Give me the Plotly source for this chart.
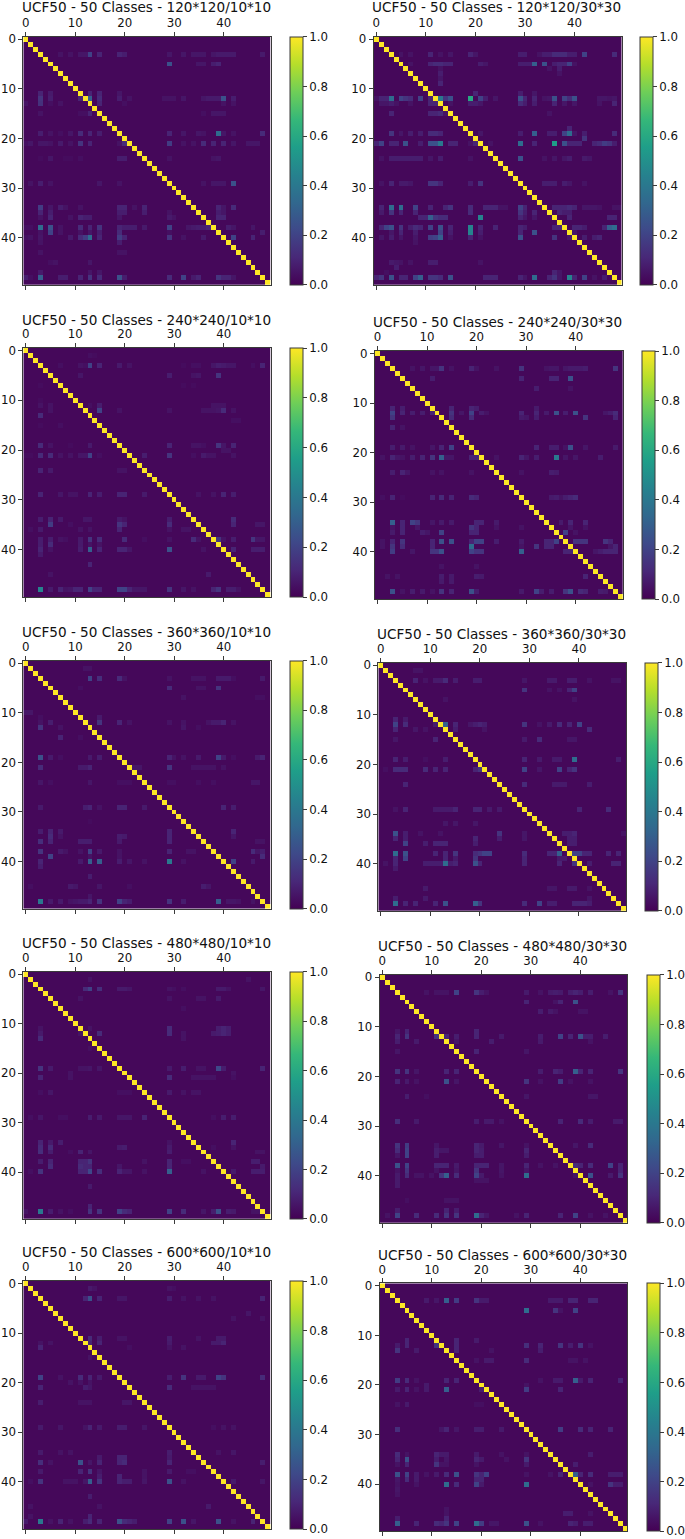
import plotly.graph_objects as go

N_CLASSES = 50
CLASS_INDEX = list(range(N_CLASSES))
TICK_VALUES = [0, 10, 20, 30, 40]
CBAR_TICKS = [0.0, 0.2, 0.4, 0.6, 0.8, 1.0]
DIAGONAL = [1.0] * N_CLASSES
BACKGROUND = 0.02

# off-diagonal cells: (row, column, value)
C_120_10 = [
(3,7,.05),(3,9,.05),(3,11,.06),(3,12,.06),(3,13,.2),(3,15,.1),(3,19,.1),(3,20,.08),(3,29,.06),(3,32,.06),(3,34,.06),(3,35,.06),(3,36,.06),(3,38,.06),(3,39,.07),(3,40,.07),(3,41,.07),(3,42,.07),(3,48,.07),
(5,29,.25),(5,35,.06),(5,36,.06),(5,38,.08),(5,39,.1),
(11,3,.1),(11,5,.07),(11,13,.1),(11,15,.1),(11,19,.06),
(12,3,.15),(12,5,.08),(12,11,.1),(12,13,.3),(12,15,.12),(12,19,.08),(12,21,.05),(12,28,.05),(12,29,.05),(12,30,.05),(12,32,.06),(12,36,.06),(12,37,.07),(12,38,.07),(12,39,.07),(12,40,.25),(12,42,.08),
(13,0,.05),(13,3,.14),(13,5,.04),(13,7,.05),(13,15,.1),(13,20,.04),(13,40,.05),(13,42,.05),
(15,3,.05),(15,11,.04),(15,12,.04),(15,13,.1),(15,36,.04),(15,38,.06),(15,39,.06),(15,40,.06),
(19,3,.08),(19,5,.05),(19,7,.04),(19,9,.06),(19,11,.12),(19,13,.1),(19,15,.08),(19,29,.1),(19,32,.06),(19,35,.06),(19,36,.05),(19,39,.35),(19,40,.06),(19,42,.05),(19,48,.12),
(21,0,.04),(21,1,.06),(21,3,.06),(21,4,.06),(21,5,.05),(21,7,.07),(21,9,.05),(21,11,.15),(21,13,.1),(21,19,.05),(21,20,.12),(21,29,.18),(21,32,.05),(21,34,.05),(21,36,.12),(21,38,.1),(21,40,.1),(21,42,.06),(21,45,.06),(21,46,.06),(21,47,.06),
(24,3,.03),(24,5,.06),(24,8,.03),(24,9,.03),(24,11,.04),(24,19,.08),(24,20,.08),(24,29,.05),(24,38,.05),(24,39,.06),
(29,1,.05),(29,3,.08),(29,5,.05),(29,15,.06),(29,19,.05),(29,36,.05),(29,38,.06),(29,39,.06),(29,40,.06),(29,42,.25),
(34,3,.18),(34,5,.06),(34,7,.08),(34,8,.05),(34,11,.05),(34,19,.1),(34,20,.1),(34,22,.05),(34,24,.1),(34,39,.1),(34,40,.06),(34,42,.12),
(35,3,.1),(35,5,.08),(35,19,.08),(35,20,.08),(35,24,.08),(35,29,.05),(35,39,.08),(35,40,.06),
(36,3,.05),(36,5,.1),(36,9,.05),(36,11,.1),(36,12,.08),(36,13,.08),(36,19,.06),(36,29,.07),(36,30,.05),(36,39,.1),(36,40,.1),
(38,0,.04),(38,1,.04),(38,3,.35),(38,5,.25),(38,7,.05),(38,11,.12),(38,13,.1),(38,15,.15),(38,19,.1),(38,20,.08),(38,21,.08),(38,22,.08),(38,24,.07),(38,29,.2),(38,33,.06),(38,34,.07),(38,35,.08),(38,36,.08),(38,37,.1),(38,41,.08),(38,42,.06),(38,46,.06),
(39,3,.05),(39,5,.2),(39,7,.05),(39,11,.05),(39,13,.06),(39,15,.08),(39,19,.12),(39,29,.04),(39,48,.08),
(40,0,.04),(40,1,.05),(40,3,.06),(40,9,.07),(40,11,.12),(40,12,.18),(40,13,.35),(40,15,.1),(40,19,.18),(40,20,.1),(40,29,.15),(40,32,.05),(40,36,.07),(40,42,.2),(40,46,.1),
(41,3,.05),(41,19,.08),(43,3,.05),(43,19,.05),(43,20,.05),(45,5,.04),(45,6,.05),(45,13,.06),(47,3,.07),(47,13,.06),(47,15,.06),
(48,0,.08),(48,1,.04),(48,3,.3),(48,7,.08),(48,8,.08),(48,11,.1),(48,13,.15),(48,15,.12),(48,19,.25),(48,20,.08),(48,29,.12),(48,32,.2),(48,34,.07),(48,35,.1),(48,39,.15),(48,40,.1),(48,41,.1),(48,42,.06),
]
C_120_30 = [
(3,5,.05),(3,7,.05),(3,11,.1),(3,13,.05),(3,15,.06),(3,19,.1),(3,20,.06),(3,29,.08),(3,30,.08),(3,33,.05),(3,34,.08),(3,35,.08),(3,36,.12),(3,37,.12),(3,38,.12),(3,39,.08),(3,40,.08),(3,42,.2),(3,48,.12),
(5,7,.05),(5,11,.1),(5,12,.12),(5,13,.12),(5,14,.1),(5,15,.1),(5,21,.08),(5,22,.06),(5,29,.08),(5,30,.08),(5,31,.08),(5,32,.3),(5,34,.25),(5,36,.08),(5,37,.1),(5,38,.1),(5,39,.2),(5,40,.05),
(6,13,.05),(6,35,.05),(6,37,.08),(7,13,.08),(7,37,.05),(8,13,.06),(9,13,.1),(11,20,.1),(11,29,.08),(11,32,.06),
(12,0,.05),(12,1,.1),(12,2,.1),(12,3,.35),(12,5,.2),(12,6,.15),(12,7,.12),(12,9,.2),(12,11,.1),(12,13,.4),(12,14,.15),(12,15,.25),(12,19,.6),(12,21,.2),(12,22,.08),(12,24,.06),(12,29,.25),(12,30,.1),(12,32,.1),(12,34,.05),(12,35,.06),(12,36,.25),(12,38,.2),(12,39,.12),(12,40,.25),(12,45,.06),(12,46,.06),(12,47,.05),(12,48,.06),
(13,1,.06),(13,2,.06),(13,3,.08),(13,4,.05),(13,7,.05),(13,11,.1),(13,12,.1),(13,15,.05),(13,19,.08),(13,20,.08),(13,21,.06),(13,29,.12),(13,30,.08),(13,32,.08),(13,36,.1),(13,38,.06),(13,40,.06),(13,45,.05),(13,48,.1),
(15,3,.1),(15,11,.1),(15,12,.1),(15,13,.12),(15,14,.05),(15,35,.05),(18,39,.1),
(19,3,.15),(19,5,.06),(19,7,.08),(19,9,.08),(19,11,.12),(19,12,.12),(19,13,.1),(19,21,.06),(19,29,.08),(19,32,.3),(19,35,.08),(19,36,.08),(19,38,.2),(19,39,.35),(19,40,.06),(19,42,.08),(19,48,.12),(20,42,.15),
(21,0,.1),(21,1,.2),(21,3,.1),(21,4,.1),(21,6,.25),(21,9,.08),(21,11,.25),(21,12,.25),(21,13,.4),(21,15,.1),(21,16,.1),(21,19,.05),(21,20,.1),(21,23,.05),(21,29,.35),(21,32,.1),(21,36,.55),(21,38,.25),(21,39,.1),(21,40,.1),(21,41,.1),(21,44,.1),(21,45,.12),(21,46,.18),(21,47,.15),(21,48,.08),
(24,1,.05),(24,3,.08),(24,4,.08),(24,5,.08),(24,6,.08),(24,7,.08),(24,8,.08),(24,9,.08),(24,11,.06),(24,13,.08),(24,19,.05),(24,29,.25),(24,34,.05),(24,36,.06),(24,38,.06),(24,39,.08),(24,42,.07),(24,43,.06),
(29,1,.05),(29,3,.1),(29,5,.07),(29,6,.07),(29,7,.06),(29,11,.15),(29,12,.15),(29,13,.1),(29,19,.08),(29,21,.15),(29,34,.08),(29,35,.08),(29,36,.08),(29,38,.08),(29,39,.06),(29,42,.05),
(34,1,.1),(34,3,.35),(34,5,.35),(34,8,.2),(34,11,.1),(34,14,.1),(34,15,.15),(34,19,.12),(34,22,.1),(34,23,.1),(34,24,.1),(34,25,.05),(34,26,.05),(34,29,.2),(34,30,.1),(34,36,.1),(34,37,.1),(34,38,.1),(34,39,.12),(34,40,.1),(34,42,.06),(34,43,.06),(34,44,.06),(34,45,.05),(34,48,.05),(34,49,.05),
(35,1,.07),(35,3,.15),(35,5,.1),(35,8,.1),(35,19,.12),(35,29,.15),(35,30,.08),(35,32,.1),(35,37,.1),(35,38,.08),(35,39,.08),
(36,9,.1),(36,10,.1),(36,11,.3),(36,12,.15),(36,13,.12),(36,14,.12),(36,21,.45),(36,29,.1),(36,30,.06),(36,32,.06),(36,39,.1),(36,47,.1),(36,48,.1),
(38,1,.1),(38,2,.2),(38,3,.25),(38,5,.15),(38,7,.08),(38,8,.12),(38,9,.1),(38,11,.2),(38,13,.25),(38,15,.1),(38,19,.45),(38,21,.1),(38,24,.1),(38,29,.1),(38,30,.08),(38,36,.1),(38,37,.1),(38,40,.1),(38,41,.1),(38,42,.08),(38,46,.1),(38,47,.3),(38,48,.35),
(39,3,.06),(39,5,.1),(39,8,.08),(39,13,.2),(39,15,.08),(39,19,.45),(39,21,.08),(39,29,.1),(39,32,.25),(39,40,.06),
(40,1,.06),(40,3,.08),(40,5,.06),(40,8,.06),(40,11,.18),(40,12,.2),(40,13,.3),(40,15,.05),(40,19,.1),(40,21,.05),(40,29,.25),(40,36,.15),(40,39,.06),(40,42,.08),(40,44,.08),(40,45,.1),
(41,8,.05),(45,3,.07),(45,4,.06),(45,5,.05),(45,7,.05),(45,11,.08),(45,12,.08),(45,21,.05),(46,4,.08),(47,2,.04),(47,36,.1),(47,37,.06),
(48,0,.1),(48,1,.15),(48,3,.25),(48,5,.1),(48,6,.1),(48,8,.2),(48,9,.3),(48,11,.15),(48,12,.15),(48,13,.12),(48,15,.25),(48,22,.1),(48,23,.1),(48,24,.1),(48,29,.1),(48,30,.06),(48,32,.35),(48,35,.1),(48,36,.15),(48,37,.06),(48,39,.45),(48,40,.1),(48,42,.2),(48,44,.05),(48,46,.08),
]
C_240_10 = [
(1,13,.04),(1,14,.03),
(3,7,.04),(3,11,.05),(3,12,.04),(3,13,.2),(3,15,.1),(3,19,.07),(3,21,.05),(3,32,.03),(3,34,.04),(3,35,.04),(3,38,.06),(3,39,.08),(3,40,.07),(3,41,.06),(3,42,.06),(3,46,.04),(3,48,.1),
(5,11,.06),(5,29,.08),(5,34,.05),(5,35,.06),(5,39,.15),(7,3,.03),(7,32,.03),(7,34,.03),(10,3,.03),
(11,3,.05),(11,5,.05),(11,13,.04),(11,15,.08),(11,38,.05),(11,39,.05),(11,40,.05),
(12,5,.05),(12,15,.2),(12,19,.05),(12,29,.05),(12,36,.05),(12,37,.05),(12,38,.05),(12,39,.06),(12,40,.12),(12,42,.05),
(13,3,.12),(14,42,.04),(14,43,.04),(15,3,.03),(15,7,.04),
(19,3,.12),(19,5,.05),(19,9,.03),(19,13,.07),(19,29,.1),(19,34,.05),(19,35,.05),(19,36,.04),(19,39,.15),(19,40,.06),(19,42,.1),(20,40,.05),(20,41,.05),
(21,0,.03),(21,1,.03),(21,3,.12),(21,5,.12),(21,7,.05),(21,9,.05),(21,11,.06),(21,12,.06),(21,13,.2),(21,15,.04),(21,24,.08),(21,29,.15),(21,34,.04),(21,36,.07),(21,37,.05),(21,38,.05),(21,42,.05),
(24,3,.1),(24,5,.07),(24,19,.05),(24,20,.05),
(29,3,.1),(29,7,.06),(29,9,.05),(29,10,.05),(29,13,.1),(29,15,.08),(29,19,.1),(29,20,.1),(29,24,.07),(29,35,.05),(29,38,.05),(29,40,.1),(29,42,.08),
(34,3,.08),(34,5,.1),(34,7,.07),(34,12,.06),(34,13,.06),(34,19,.07),(34,20,.05),(34,29,.08),(34,42,.12),
(35,5,.18),(35,9,.04),(35,19,.15),(35,20,.1),(35,29,.12),(35,42,.1),(35,47,.06),(35,48,.06),
(36,1,.04),(36,3,.07),(36,11,.05),(36,13,.05),(36,19,.1),(36,29,.05),(36,32,.05),(36,33,.05),
(38,3,.08),(38,5,.08),(38,7,.05),(38,8,.04),(38,11,.07),(38,13,.15),(38,15,.12),(38,20,.12),(38,24,.04),(38,29,.05),(38,34,.12),(38,35,.05),(38,39,.15),(38,40,.05),(38,42,.08),(38,46,.15),(38,47,.06),(38,48,.06),
(39,3,.08),(39,5,.12),(39,11,.07),(39,13,.05),(39,15,.05),
(40,3,.1),(40,5,.05),(40,11,.08),(40,13,.3),(40,15,.1),(40,19,.1),(40,20,.1),(40,21,.06),(40,29,.25),(40,36,.05),(40,42,.1),(40,46,.08),(40,47,.08),(40,48,.08),
(41,3,.07),(43,13,.1),(45,5,.05),(45,37,.07),
(48,3,.45),(48,5,.07),(48,7,.1),(48,8,.05),(48,9,.06),(48,10,.1),(48,11,.1),(48,13,.2),(48,14,.1),(48,15,.1),(48,19,.2),(48,20,.2),(48,21,.1),(48,22,.06),(48,23,.06),(48,24,.06),(48,29,.15),(48,32,.06),(48,34,.05),(48,38,.1),(48,39,.15),(48,41,.08),(48,42,.08),(48,43,.05),
]
C_240_30 = [
(3,7,.05),(3,9,.06),(3,11,.06),(3,12,.06),(3,13,.15),(3,15,.05),(3,19,.1),(3,20,.05),(3,24,.05),(3,29,.15),(3,34,.05),(3,35,.06),(3,36,.06),(3,38,.06),(3,39,.07),(3,40,.07),(3,41,.07),(3,42,.08),(3,48,.15),
(5,11,.08),(5,29,.1),(5,35,.1),(5,36,.1),(5,39,.25),(7,32,.08),(7,39,.05),
(11,3,.1),(11,5,.08),(11,15,.1),(11,19,.1),(11,20,.08),(11,32,.07),
(12,3,.2),(12,5,.1),(12,7,.08),(12,9,.08),(12,11,.1),(12,15,.15),(12,17,.06),(12,19,.2),(12,21,.08),(12,22,.05),(12,29,.1),(12,32,.1),(12,34,.07),(12,36,.25),(12,38,.08),(12,40,.25),(12,46,.06),(12,47,.08),(12,48,.12),
(13,3,.15),(13,15,.12),(13,19,.12),(13,29,.07),(13,30,.06),(13,32,.08),(13,42,.15),(13,48,.1),(15,3,.1),(15,5,.05),
(19,3,.08),(19,5,.07),(19,7,.05),(19,11,.06),(19,13,.1),(19,15,.2),(19,32,.1),(19,35,.08),(19,36,.08),(19,38,.05),(19,39,.25),(19,42,.06),(19,48,.07),
(21,1,.05),(21,3,.1),(21,4,.06),(21,5,.05),(21,7,.08),(21,9,.1),(21,11,.15),(21,13,.3),(21,14,.06),(21,15,.06),(21,19,.1),(21,20,.1),(21,24,.05),(21,29,.1),(21,30,.06),(21,32,.08),(21,36,.4),(21,38,.06),(21,40,.06),(21,45,.08),
(24,3,.08),(24,5,.1),(24,6,.06),(24,11,.05),(24,13,.05),(24,19,.05),(24,29,.05),(24,35,.08),(24,36,.07),
(29,1,.04),(29,3,.1),(29,5,.03),(29,11,.1),(29,13,.12),(29,15,.1),(29,19,.12),(29,20,.1),(29,35,.07),(29,36,.08),(29,37,.05),(29,38,.08),(29,39,.1),(29,40,.12),
(34,3,.3),(34,5,.1),(34,7,.2),(34,8,.15),(34,11,.06),(34,13,.07),(34,15,.07),(34,20,.1),(34,21,.1),(34,24,.07),(34,37,.07),(34,39,.1),(34,42,.1),
(35,3,.05),(35,5,.1),(35,8,.06),(35,19,.15),(35,20,.1),(35,24,.05),(35,29,.05),(35,39,.06),(35,42,.05),
(36,3,.07),(36,5,.1),(36,9,.08),(36,10,.06),(36,13,.2),(36,19,.1),(36,20,.1),(36,38,.2),(36,40,.05),
(38,1,.05),(38,3,.1),(38,5,.15),(38,11,.1),(38,13,.25),(38,15,.25),(38,19,.1),(38,20,.2),(38,21,.2),(38,24,.08),(38,29,.07),(38,34,.1),(38,35,.1),(38,36,.2),(38,40,.15),(38,41,.15),(38,42,.15),(38,46,.15),(38,47,.1),
(39,1,.05),(39,3,.15),(39,5,.12),(39,11,.1),(39,19,.35),(39,29,.05),(39,32,.15),(39,34,.1),(39,35,.1),(39,47,.06),(39,48,.1),
(40,3,.18),(40,7,.06),(40,11,.15),(40,12,.15),(40,13,.25),(40,19,.2),(40,20,.15),(40,21,.15),(40,29,.3),(40,38,.1),(40,39,.1),(40,44,.06),(40,45,.08),(40,46,.1),(40,47,.1),(40,48,.1),
(43,13,.05),(43,20,.05),(45,2,.05),(45,4,.05),(45,13,.08),(45,15,.07),(45,20,.08),(45,21,.07),(45,42,.1),(46,13,.07),(46,15,.07),
(48,3,.25),(48,5,.05),(48,7,.08),(48,9,.07),(48,11,.05),(48,13,.15),(48,15,.1),(48,19,.25),(48,20,.08),(48,29,.07),(48,32,.2),(48,33,.08),(48,35,.08),(48,38,.15),(48,39,.25),(48,41,.12),(48,42,.1),(48,45,.08),(48,46,.07),
]
C_360_10 = [
(1,12,.05),(1,13,.05),(3,13,.2),(3,15,.13),(3,19,.12),(3,20,.05),(3,29,.05),(3,34,.05),(3,35,.05),(3,36,.05),(3,39,.07),(3,40,.07),(3,41,.07),(3,42,.04),(3,48,.07),
(5,11,.04),(5,29,.12),(5,35,.05),(5,36,.05),(5,39,.15),(7,32,.05),(7,47,.04),(7,48,.04),(10,0,.06),(10,1,.06),(11,3,.04),(11,15,.07),
(12,3,.05),(12,5,.08),(12,15,.15),(12,19,.1),(12,21,.05),(12,29,.05),(12,32,.05),(12,37,.05),(12,38,.07),(12,39,.07),(12,40,.1),(12,42,.05),
(13,3,.15),(13,7,.05),(13,32,.06),(13,35,.04),(15,7,.1),(15,11,.04),
(19,3,.25),(19,5,.07),(19,7,.04),(19,13,.07),(19,15,.08),(19,29,.1),(19,30,.05),(19,32,.05),(19,35,.07),(19,39,.2),(19,40,.07),(19,42,.04),(19,47,.07),(19,48,.1),
(21,3,.12),(21,11,.07),(21,12,.07),(21,13,.1),(21,22,.06),(21,23,.06),(21,29,.15),(21,34,.05),(21,35,.05),(21,36,.05),(21,37,.05),(21,38,.05),(21,40,.05),
(24,3,.06),(24,5,.04),(24,13,.06),(24,19,.04),(24,20,.04),(24,21,.04),(24,29,.04),(24,30,.04),(24,35,.04),(24,38,.04),(24,46,.06),(24,47,.06),
(29,3,.07),(29,12,.08),(29,13,.1),(29,15,.05),(29,19,.1),(29,20,.1),(29,24,.07),(29,40,.1),(29,42,.08),(32,13,.03),
(34,3,.08),(34,5,.1),(34,7,.07),(34,29,.1),(34,42,.1),(35,5,.12),(35,7,.05),(35,19,.08),(35,20,.07),(35,29,.1),(35,42,.06),
(36,3,.13),(36,5,.1),(36,11,.08),(36,12,.08),(36,13,.08),(36,19,.07),(36,29,.1),(36,47,.05),(36,48,.05),
(38,3,.15),(38,7,.07),(38,8,.05),(38,11,.05),(38,13,.2),(38,15,.07),(38,19,.05),(38,29,.1),(38,33,.05),(38,34,.05),(38,46,.12),(38,47,.06),(38,48,.08),
(39,5,.2),(39,13,.05),(39,19,.05),(39,48,.12),
(40,3,.1),(40,11,.07),(40,13,.3),(40,15,.3),(40,19,.08),(40,21,.06),(40,24,.05),(40,29,.4),(40,32,.05),(40,42,.2),(40,46,.07),
(41,3,.08),(43,13,.08),(45,1,.04),(45,9,.07),(45,10,.06),(45,15,.06),(45,21,.04),(45,36,.08),(45,37,.06),(47,13,.06),
(48,3,.4),(48,5,.07),(48,7,.07),(48,9,.05),(48,10,.06),(48,11,.07),(48,12,.07),(48,13,.1),(48,15,.15),(48,19,.2),(48,20,.1),(48,21,.08),(48,29,.15),(48,32,.08),(48,39,.3),(48,41,.06),(48,42,.06),(48,43,.05),(48,46,.05),
]
C_360_30 = [
(1,7,.05),(1,8,.05),(3,7,.1),(3,9,.05),(3,11,.07),(3,12,.07),(3,13,.12),(3,15,.08),(3,19,.08),(3,20,.08),(3,29,.06),(3,34,.07),(3,35,.07),(3,38,.08),(3,39,.08),(3,42,.05),(3,47,.05),(3,48,.05),
(5,29,.15),(5,34,.05),(5,36,.05),(5,38,.1),(5,39,.2),(7,13,.05),(7,39,.05),(11,3,.1),(11,5,.07),
(12,3,.2),(12,5,.12),(12,11,.07),(12,13,.3),(12,15,.1),(12,18,.06),(12,19,.08),(12,20,.1),(12,21,.08),(12,29,.15),(12,32,.05),(12,34,.07),(12,36,.12),(12,38,.1),(12,40,.2),
(13,3,.1),(13,7,.06),(13,9,.05),(13,15,.08),(13,21,.05),(13,42,.12),(15,3,.06),(15,11,.1),(15,29,.07),(15,32,.12),(15,38,.06),(15,39,.06),
(19,3,.1),(19,5,.08),(19,9,.04),(19,13,.08),(19,29,.1),(19,32,.07),(19,35,.07),(19,36,.07),(19,39,.35),(19,48,.08),
(21,1,.04),(21,3,.12),(21,4,.12),(21,5,.12),(21,9,.12),(21,11,.1),(21,13,.1),(21,19,.1),(21,20,.15),(21,29,.2),(21,32,.06),(21,36,.2),(21,38,.1),(21,39,.15),
(24,5,.1),(24,29,.12),(24,35,.07),(24,36,.07),(24,37,.07),(24,42,.08),
(29,3,.05),(29,5,.1),(29,11,.07),(29,12,.07),(29,13,.07),(29,14,.07),(29,15,.1),(29,19,.1),(29,20,.1),(29,22,.07),(29,24,.07),(29,40,.1),(29,46,.12),(32,13,.06),(32,15,.06),(32,19,.06),
(34,3,.25),(34,5,.08),(34,8,.05),(34,12,.05),(34,24,.15),(34,29,.06),(34,37,.08),(34,38,.08),(34,39,.1),(34,49,.05),
(35,3,.1),(35,5,.08),(35,19,.1),(35,24,.08),(35,29,.06),(35,38,.08),(35,39,.08),
(36,5,.2),(36,9,.08),(36,11,.1),(36,12,.1),(36,13,.1),(36,19,.08),(36,38,.08),(36,39,.08),
(38,3,.35),(38,5,.25),(38,11,.1),(38,13,.1),(38,15,.15),(38,19,.12),(38,20,.15),(38,21,.2),(38,22,.2),(38,29,.12),(38,34,.1),(38,35,.1),(38,36,.3),(38,39,.2),(38,40,.2),(38,41,.1),(38,42,.1),(38,46,.1),(38,48,.1),
(39,3,.1),(39,5,.2),(39,13,.1),(39,15,.07),(39,19,.15),(39,29,.1),(39,36,.07),(39,37,.07),
(40,1,.05),(40,3,.1),(40,9,.08),(40,10,.08),(40,11,.08),(40,12,.08),(40,13,.35),(40,14,.08),(40,15,.1),(40,19,.25),(40,20,.1),(40,29,.1),(40,36,.1),(40,39,.15),(40,42,.08),(40,47,.1),(40,48,.1),
(41,3,.07),(45,9,.07),(45,34,.06),(45,35,.06),(45,38,.07),(45,39,.07),(45,42,.05),(47,3,.08),(47,9,.07),(47,42,.06),
(48,3,.35),(48,5,.1),(48,7,.1),(48,11,.1),(48,13,.25),(48,19,.3),(48,20,.15),(48,29,.12),(48,32,.2),(48,34,.08),(48,35,.08),(48,39,.1),(48,40,.1),(48,41,.1),(48,42,.08),
]
C_480_10 = [
(1,13,.05),(1,45,.05),(3,12,.12),(3,13,.2),(3,15,.13),(3,19,.07),(3,20,.07),(3,21,.06),(3,29,.05),(3,30,.04),(3,32,.04),(3,39,.07),(3,40,.07),(3,41,.05),(3,48,.06),
(5,11,.05),(5,29,.05),(5,35,.05),(5,36,.05),(5,39,.07),(7,32,.04),
(11,3,.05),(11,13,.05),(11,29,.12),(11,39,.08),(11,40,.1),(11,41,.08),
(12,3,.07),(12,11,.05),(12,15,.12),(12,29,.12),(12,32,.05),(12,38,.07),(12,39,.08),(12,40,.1),(12,41,.08),
(13,3,.12),(13,32,.05),(15,13,.04),
(19,3,.15),(19,5,.07),(19,11,.05),(19,12,.05),(19,13,.06),(19,15,.06),(19,29,.07),(19,32,.08),(19,35,.05),(19,36,.05),(19,39,.22),(19,40,.08),(19,48,.1),(20,9,.05),(20,42,.05),
(21,3,.1),(21,9,.05),(21,29,.12),(21,34,.05),(21,35,.05),(21,36,.05),(21,37,.05),(21,38,.05),(21,42,.04),
(24,3,.04),(24,5,.06),(24,19,.04),(24,20,.04),(24,21,.04),(24,29,.07),(24,32,.05),(24,34,.05),(24,35,.05),
(29,1,.04),(29,3,.06),(29,7,.04),(29,8,.04),(29,13,.08),(29,15,.07),(29,19,.06),(29,20,.06),(29,21,.06),(29,24,.1),(29,38,.04),(29,40,.08),(29,42,.08),
(34,3,.1),(34,5,.07),(34,7,.08),(34,29,.05),(34,42,.1),(35,3,.12),(35,5,.12),(35,19,.07),(35,20,.08),(35,29,.07),(35,38,.04),(35,42,.05),
(36,3,.13),(36,5,.08),(36,9,.04),(36,11,.1),(36,13,.06),(36,29,.08),(36,47,.05),(36,48,.05),
(38,3,.08),(38,5,.1),(38,11,.1),(38,12,.1),(38,13,.15),(38,24,.05),(38,29,.1),(38,32,.04),(38,33,.04),(38,46,.08),(38,47,.08),
(39,5,.12),(39,11,.12),(39,12,.1),(39,13,.1),(39,19,.06),(39,29,.1),(39,48,.07),
(40,1,.04),(40,3,.15),(40,11,.1),(40,12,.1),(40,13,.22),(40,15,.13),(40,19,.1),(40,20,.06),(40,21,.06),(40,24,.05),(40,29,.3),(40,36,.05),(40,42,.07),(40,46,.08),(40,47,.08),(40,48,.08),
(43,13,.07),(47,13,.1),
(48,0,.05),(48,3,.4),(48,5,.08),(48,7,.05),(48,9,.04),(48,13,.15),(48,15,.15),(48,19,.2),(48,20,.12),(48,21,.1),(48,29,.2),(48,32,.12),(48,36,.06),(48,38,.08),(48,39,.25),(48,41,.08),(48,42,.07),(48,46,.05),(48,47,.05),
]
C_480_30 = [
(3,9,.05),(3,11,.05),(3,12,.05),(3,13,.05),(3,15,.2),(3,19,.15),(3,20,.08),(3,21,.05),(3,29,.07),(3,32,.05),(3,34,.07),(3,35,.08),(3,36,.07),(3,38,.08),(3,39,.1),(3,40,.08),(3,42,.08),(3,46,.05),(3,48,.15),
(5,29,.1),(5,35,.05),(5,36,.1),(5,39,.25),(7,32,.08),(7,34,.07),(7,35,.05),(7,40,.05),(7,41,.05),
(11,3,.06),(11,5,.1),(11,19,.1),
(12,3,.1),(12,5,.15),(12,11,.15),(12,13,.1),(12,15,.08),(12,19,.1),(12,24,.07),(12,32,.08),(12,36,.2),(12,38,.1),(12,40,.25),(12,41,.08),(12,42,.08),(12,45,.08),
(13,3,.08),(13,7,.07),(13,15,.06),(13,22,.08),(13,32,.07),(13,42,.05),(15,3,.06),(15,19,.1),(15,29,.06),
(19,3,.15),(19,5,.15),(19,7,.06),(19,13,.1),(19,15,.1),(19,32,.08),(19,35,.1),(19,36,.08),(19,39,.3),(19,40,.1),(19,42,.1),(19,48,.15),
(21,3,.1),(21,5,.07),(21,7,.05),(21,13,.25),(21,15,.06),(21,29,.15),(21,32,.05),(21,36,.18),(21,38,.05),(21,42,.05),
(24,5,.08),(24,9,.04),(24,29,.06),(24,42,.06),(24,43,.06),
(29,3,.13),(29,7,.07),(29,19,.08),(29,21,.07),(29,22,.07),(29,24,.05),(29,36,.1),(29,40,.12),(29,42,.08),(29,47,.07),(29,48,.07),
(34,3,.15),(34,5,.18),(34,11,.06),(34,19,.1),(34,20,.07),(34,24,.06),(34,29,.05),(34,39,.06),(34,42,.12),
(35,3,.12),(35,5,.2),(35,11,.08),(35,12,.06),(35,13,.06),(35,19,.1),(35,20,.08),(35,29,.1),
(36,3,.06),(36,5,.2),(36,11,.08),(36,19,.08),(36,20,.08),(36,29,.08),
(38,3,.25),(38,5,.2),(38,11,.1),(38,12,.1),(38,13,.1),(38,15,.07),(38,19,.1),(38,20,.1),(38,21,.1),(38,24,.06),(38,29,.1),(38,32,.05),(38,35,.05),(38,39,.12),(38,40,.1),(38,42,.12),(38,46,.2),(38,48,.1),
(39,3,.05),(39,5,.15),(39,11,.05),(39,15,.06),(39,19,.15),(39,24,.06),(39,29,.06),(39,48,.1),
(40,3,.07),(40,5,.12),(40,7,.05),(40,8,.05),(40,10,.05),(40,12,.15),(40,13,.3),(40,15,.12),(40,19,.2),(40,20,.07),(40,24,.05),(40,29,.35),(40,39,.05),(40,42,.25),(40,46,.07),(40,48,.15),
(41,3,.07),(41,19,.05),(41,20,.05),(41,21,.05),(42,3,.07),(45,5,.04),(45,13,.05),(45,14,.05),(45,15,.05),(47,3,.08),(47,13,.1),(47,15,.08),
(48,1,.05),(48,3,.2),(48,7,.12),(48,11,.12),(48,13,.15),(48,15,.15),(48,19,.35),(48,20,.1),(48,21,.06),(48,27,.05),(48,29,.1),(48,36,.1),(48,39,.2),(48,42,.05),(48,45,.05),
]
C_600_10 = [
(1,13,.07),(1,14,.05),(1,29,.05),(1,30,.04),(3,12,.1),(3,13,.25),(3,15,.1),(3,19,.06),(3,20,.06),(3,29,.08),(3,32,.05),(3,35,.05),(3,38,.05),(3,48,.1),
(6,45,.06),(7,42,.05),(7,48,.05),
(11,13,.12),(11,15,.08),(11,19,.05),(11,20,.05),(11,29,.08),(11,35,.05),(11,39,.07),(11,40,.07),
(12,3,.05),(12,5,.05),(12,13,.1),(12,15,.1),(12,29,.07),(12,38,.07),(12,39,.07),(12,40,.1),
(13,3,.1),(13,21,.04),(13,29,.05),(13,32,.05),(15,13,.05),
(19,3,.2),(19,7,.05),(19,11,.12),(19,13,.1),(19,15,.07),(19,29,.08),(19,32,.15),(19,35,.07),(19,36,.07),(19,39,.2),(19,40,.15),(19,48,.12),(20,9,.05),(20,11,.05),(20,13,.05),
(21,3,.1),(21,12,.08),(21,13,.06),(21,29,.12),(21,34,.05),(21,35,.05),(21,36,.05),(21,37,.05),(21,38,.05),
(24,3,.08),(24,11,.05),(24,12,.05),(24,13,.05),(24,20,.06),(24,21,.06),
(29,3,.07),(29,7,.06),(29,12,.05),(29,13,.1),(29,15,.07),(29,19,.08),(29,20,.08),(29,24,.06),(29,38,.04),(29,40,.05),(29,42,.05),
(34,3,.07),(34,7,.05),(34,9,.05),(34,29,.08),(34,39,.05),(34,42,.06),(35,15,.07),(35,19,.1),(35,20,.1),(35,29,.07),
(36,3,.13),(36,5,.05),(36,11,.25),(36,13,.06),(36,15,.1),(36,19,.1),(36,20,.12),(36,29,.1),(36,48,.08),
(38,3,.07),(38,11,.1),(38,13,.15),(38,15,.06),(38,24,.05),(38,29,.07),(38,33,.04),(38,34,.04),(39,15,.08),(39,19,.1),(39,24,.05),
(40,1,.04),(40,3,.15),(40,8,.05),(40,9,.05),(40,10,.05),(40,12,.06),(40,13,.3),(40,15,.15),(40,19,.1),(40,20,.08),(40,21,.08),(40,24,.06),(40,29,.25),(40,32,.05),(40,42,.07),(40,48,.06),
(43,13,.08),(45,1,.05),(45,15,.05),(45,37,.07),(47,1,.05),(47,13,.1),
(48,0,.07),(48,3,.4),(48,5,.05),(48,7,.1),(48,9,.05),(48,12,.08),(48,13,.12),(48,15,.1),(48,19,.25),(48,20,.12),(48,21,.1),(48,22,.08),(48,29,.2),(48,32,.25),(48,34,.06),(48,39,.25),(48,42,.05),(48,46,.1),
]
C_600_30 = [
(3,9,.07),(3,11,.06),(3,13,.3),(3,15,.18),(3,19,.15),(3,20,.07),(3,21,.07),(3,34,.07),(3,35,.07),(3,36,.07),(3,38,.1),(3,39,.1),(3,42,.1),(3,43,.1),
(5,29,.35),(5,35,.15),(5,36,.05),(5,39,.2),(11,5,.1),(11,15,.1),(11,19,.07),
(12,3,.07),(12,5,.1),(12,11,.15),(12,15,.1),(12,29,.13),(12,32,.1),(12,36,.15),(12,38,.08),(12,40,.15),(12,42,.05),
(13,3,.15),(13,7,.07),(13,15,.1),(13,22,.05),(13,32,.08),(15,19,.05),(15,21,.07),(15,22,.07),(15,29,.12),(15,38,.05),(15,39,.05),(15,41,.05),
(19,3,.18),(19,5,.12),(19,7,.05),(19,13,.1),(19,15,.1),(19,32,.05),(19,35,.07),(19,36,.07),(19,39,.3),(19,40,.07),(19,42,.1),(19,48,.1),(20,9,.07),(20,29,.05),
(21,3,.07),(21,5,.1),(21,7,.05),(21,9,.07),(21,13,.3),(21,20,.08),(21,29,.18),(21,36,.1),
(24,3,.05),(24,5,.07),(24,19,.04),(24,20,.04),
(29,3,.13),(29,12,.06),(29,13,.1),(29,15,.06),(29,19,.08),(29,20,.08),(29,24,.07),(29,36,.18),(29,40,.12),(29,42,.1),(29,46,.1),
(34,3,.12),(34,5,.05),(34,11,.1),(34,12,.07),(34,13,.07),(34,19,.07),(34,24,.05),(34,29,.05),(34,42,.08),
(35,3,.1),(35,5,.25),(35,11,.08),(35,13,.06),(35,19,.1),(35,20,.07),(35,25,.05),(35,29,.15),
(36,3,.05),(36,5,.1),(36,11,.15),(36,12,.05),(36,13,.05),(36,19,.05),(36,29,.07),(36,39,.08),
(38,3,.25),(38,5,.2),(38,7,.07),(38,9,.05),(38,11,.07),(38,13,.12),(38,15,.25),(38,19,.15),(38,20,.1),(38,21,.2),(38,29,.05),(38,34,.05),(38,36,.1),(38,39,.3),(38,40,.1),(38,42,.12),(38,46,.08),(38,47,.08),(38,48,.08),
(39,3,.06),(39,5,.12),(39,7,.07),(39,19,.1),(39,20,.1),
(40,3,.05),(40,7,.05),(40,13,.35),(40,15,.12),(40,19,.2),(40,20,.07),(40,29,.35),(40,42,.05),(40,46,.15),(40,47,.08),(40,48,.08),
(41,3,.06),(42,3,.05),(45,13,.05),(46,13,.05),(46,37,.08),(46,38,.08),(46,42,.05),(47,3,.08),(47,13,.1),
(48,3,.3),(48,7,.1),(48,11,.12),(48,12,.1),(48,13,.15),(48,15,.2),(48,19,.35),(48,20,.18),(48,22,.06),(48,23,.06),(48,29,.25),(48,32,.05),(48,38,.1),(48,39,.08),(48,41,.08),(48,42,.08),
]

TITLES = ["120*120/10*10","120*120/30*30","240*240/10*10","240*240/30*30","360*360/10*10",
          "360*360/30*30","480*480/10*10","480*480/30*30","600*600/10*10","600*600/30*30"]
CELLS = [C_120_10,C_120_30,C_240_10,C_240_30,C_360_10,C_360_30,C_480_10,C_480_30,C_600_10,C_600_30]

W, H = 685, 1539
# plot-box pixel positions: left, right, top, bottom, colourbar left, title centre y
BOXES = [
 (23.3,270.7,36.7,285,290,7),(373.7,621.7,36.7,285,640.3,7),
 (23.3,270.7,348,597,290,320),(375,622.7,351,599,641.7,322),
 (23.3,270.7,660.7,908.7,290,632),(378.3,626,662.7,911,645,634),
 (23.3,270.7,971.7,1219,290,943),(379.7,627.3,974.7,1223,646.7,946),
 (23.3,270.7,1281,1529,290,1252),(379.7,627.3,1283.3,1531.3,646.7,1255),
]

def matrix(cells):
    z = [[BACKGROUND] * N_CLASSES for _ in CLASS_INDEX]
    for i in CLASS_INDEX:
        z[i][i] = DIAGONAL[i]
    for r, c, v in cells:
        z[r][c] = v
    return z

FONT = "DejaVu Sans"
AX = "#3a3a3a"
TICK_SIZE = 11.8
fig = go.Figure()
layout = dict(width=W, height=H, autosize=False,
              margin=dict(l=0, r=0, t=0, b=0, pad=0, autoexpand=False),
              paper_bgcolor="white", plot_bgcolor="white", showlegend=False,
              font=dict(family=FONT, size=12, color="#111"))
annotations = []
for k, (t, cells, box) in enumerate(zip(TITLES, CELLS, BOXES)):
    l, r, top, bot, cb, ty = box
    n = "" if k == 0 else str(k + 1)
    fig.add_trace(go.Heatmap(
        z=matrix(cells), x=CLASS_INDEX, y=CLASS_INDEX, xaxis="x" + n, yaxis="y" + n,
        colorscale="Viridis", zmin=0, zmax=1, hoverinfo="skip",
        colorbar=dict(x=cb / W, xanchor="left", xpad=0, ypad=0, thickness=12.5,
                      len=(bot - top) / H, lenmode="fraction",
                      y=1 - (top + bot) / 2 / H, yanchor="middle",
                      tickvals=CBAR_TICKS, ticktext=[f"{v:.1f}" for v in CBAR_TICKS],
                      ticks="outside", ticklen=4, tickwidth=1, tickcolor=AX,
                      outlinecolor=AX, outlinewidth=1, borderwidth=0,
                      tickfont=dict(family=FONT, size=TICK_SIZE, color="#111"))))
    layout["xaxis" + n] = dict(domain=[l / W, r / W], range=[-0.5, 49.5], side="top",
                               anchor="y" + n, tickvals=TICK_VALUES, ticks="outside", ticklen=4,
                               tickcolor=AX, showline=True, linecolor=AX, linewidth=1,
                               mirror="ticks", showgrid=False, zeroline=False,
                               tickfont=dict(family=FONT, size=TICK_SIZE, color="#111"))
    layout["yaxis" + n] = dict(domain=[1 - bot / H, 1 - top / H], range=[49.5, -0.5],
                               anchor="x" + n, tickvals=TICK_VALUES, ticks="outside", ticklen=4,
                               tickcolor=AX, showline=True, linecolor=AX, linewidth=1,
                               mirror=True, showgrid=False, zeroline=False,
                               tickfont=dict(family=FONT, size=TICK_SIZE, color="#111"))
    annotations.append(dict(text="UCF50 - 50 Classes - " + t, xref="paper", yref="paper",
                            x=((l + r) / 2 - 1) / W, y=1 - ty / H, xanchor="center", yanchor="middle",
                            showarrow=False, font=dict(family=FONT, size=13.6, color="#111")))
layout["annotations"] = annotations
fig.update_layout(**layout)
fig.write_html("out.html", config={"displayModeBar": False},
               post_script="document.body.style.margin='0';document.body.style.overflow='hidden';")
